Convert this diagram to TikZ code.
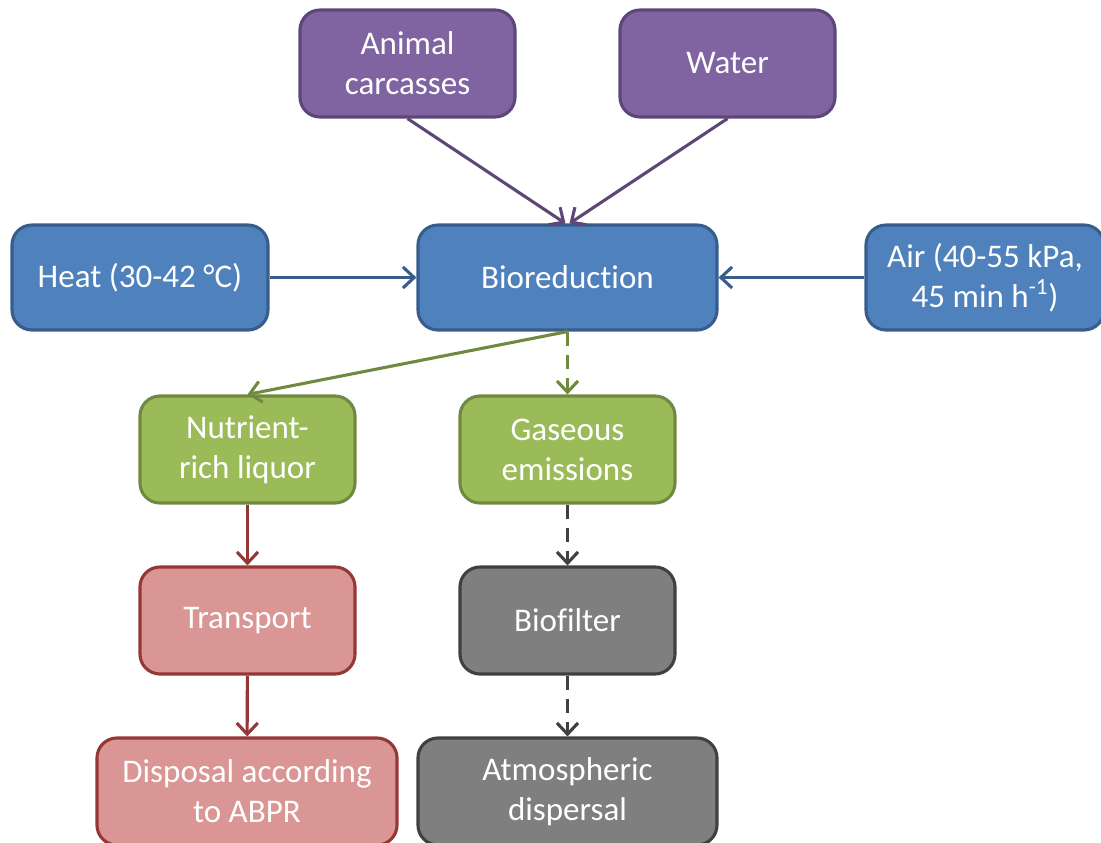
\documentclass[tikz,border=0pt]{standalone}
\usepackage{fontspec}
\setmainfont{Carlito}[Ligatures=NoCommon]
\usetikzlibrary{arrows.meta}

\definecolor{inputfill}{HTML}{8064A2}
\definecolor{inputline}{HTML}{5C4776}
\definecolor{procfill}{HTML}{4F81BD}
\definecolor{procline}{HTML}{385D8A}
\definecolor{outfill}{HTML}{9BBB59}
\definecolor{outline}{HTML}{71893F}
\definecolor{liqfill}{HTML}{D99694}
\definecolor{liqline}{HTML}{953735}
\definecolor{gasfill}{HTML}{7F7F7F}
\definecolor{gasline}{HTML}{404040}

\tikzset{
  box/.style={draw, line width=2.2pt, rounded corners=0.5cm, text=white, align=center,
    font=\fontsize{23.5}{28.5}\selectfont, minimum width=5.375cm, minimum height=2.675cm},
  inputbox/.style={box, fill=inputfill, draw=inputline},
  procbox/.style={box, fill=procfill, draw=procline, minimum height=2.625cm},
  outbox/.style={box, fill=outfill, draw=outline},
  liqbox/.style={box, fill=liqfill, draw=liqline},
  gasbox/.style={box, fill=gasfill, draw=gasline},
  flow/.style={line width=2.2pt, draw=#1, -{Straight Barb[length=8pt,width=15pt,line width=2.2pt]}},
  gasflow/.style={flow=#1, dash pattern=on 10pt off 6.5pt}
}

\begin{document}
\begin{tikzpicture}[x=0.025cm, y=-0.025cm]
  \useasboundingbox (0,0) rectangle (1101,843);

  \node[inputbox] (carc) at (407.5,63.5) {Animal\\carcasses};
  \node[inputbox] (water) at (727.5,63.5) {Water};

  \node[procbox, minimum width=6.4cm] (heat) at (140,277.5) {Heat (30-42 °C)};
  \node[procbox, minimum width=7.475cm] (bio) at (567.5,277.5) {Bioreduction};
  \node[procbox, minimum width=5.95cm] (air) at (985,277.5) {Air (40-55 kPa,\\45 min h\textsuperscript{-1})};

  \node[outbox] (liquor) at (247.5,449.5) {Nutrient-\\rich liquor};
  \node[outbox] (gas) at (567.5,449.5) {Gaseous\\emissions};

  \node[liqbox] (transport) at (247.5,620.5) {Transport};
  \node[gasbox] (filter) at (567.5,620.5) {Biofilter};

  \node[liqbox, minimum width=7.5cm] (disposal) at (247,791.5) {Disposal according\\to ABPR};
  \node[gasbox, minimum width=7.475cm] (dispersal) at (567.5,791.5) {Atmospheric\\dispersal};

  \draw[flow=inputline] (carc.south) -- ([xshift=-0.05cm]bio.north);
  \draw[flow=inputline] (water.south) -- ([xshift=0.05cm]bio.north);
  \draw[flow=procline] (heat) -- (bio);
  \draw[flow=procline] (air) -- (bio);
  \draw[flow=outline] (bio.south) -- (liquor.north);
  \draw[gasflow=outline] (bio.south) -- (gas.north);
  \draw[flow=liqline] (liquor) -- (transport);
  \draw[flow=liqline] (transport) -- (disposal);
  \draw[gasflow=gasline] (gas) -- (filter);
  \draw[gasflow=gasline] (filter) -- (dispersal);
\end{tikzpicture}
\end{document}
